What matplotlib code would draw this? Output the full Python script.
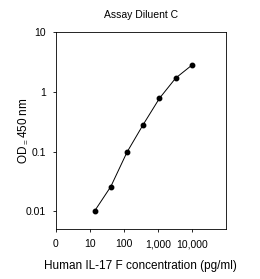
import matplotlib
matplotlib.use("Agg")
import matplotlib.pyplot as plt

plt.rcParams['font.family'] = ['Liberation Sans', 'DejaVu Sans']
plt.rcParams['mathtext.fontset'] = 'custom'
plt.rcParams['mathtext.rm'] = 'Liberation Sans'

# 3-fold dilution series of the standard
conc = [13.7, 41.2, 123.5, 370, 1111, 3333, 10000]
od = [0.0101, 0.026, 0.098, 0.284, 0.78, 1.7, 2.8]

x_ticks = [1, 10, 100, 1000, 10000]
x_labels = ['0', '10', '100', '1,000', '10,000']
y_ticks = [0.01, 0.1, 1, 10]
y_labels = ['0.01', '0.1', '1', '10']

fig = plt.figure(figsize=(2.6, 2.79), dpi=100)
ax = fig.add_axes([0.215, 0.178, 0.654, 0.707])

ax.plot(conc, od, color='black', linewidth=0.7, marker='o', markersize=3.2)

ax.set_xscale('log')
ax.set_yscale('log')
ax.set_xlim(1, 100000)
ax.set_ylim(0.005, 10)

ax.set_xticks(x_ticks)
ax.set_xticklabels(x_labels)
ax.set_yticks(y_ticks)
ax.set_yticklabels(y_labels)
ax.minorticks_off()
ax.tick_params(labelsize=7.5, length=2, width=0.6)
ax.tick_params(axis='x', pad=5)
ax.tick_params(axis='y', pad=5)
for s in ax.spines.values():
    s.set_linewidth(0.6)

ax.set_title('Assay Diluent C', fontsize=7.5, pad=10)
ax.set_xlabel('Human IL-17 F concentration (pg/ml)', fontsize=8.5, labelpad=8)
ax.set_ylabel(r'OD$_{\mathrm{=}}$450 nm', fontsize=8.5, labelpad=-2)

fig.savefig('out.png', dpi=100)
